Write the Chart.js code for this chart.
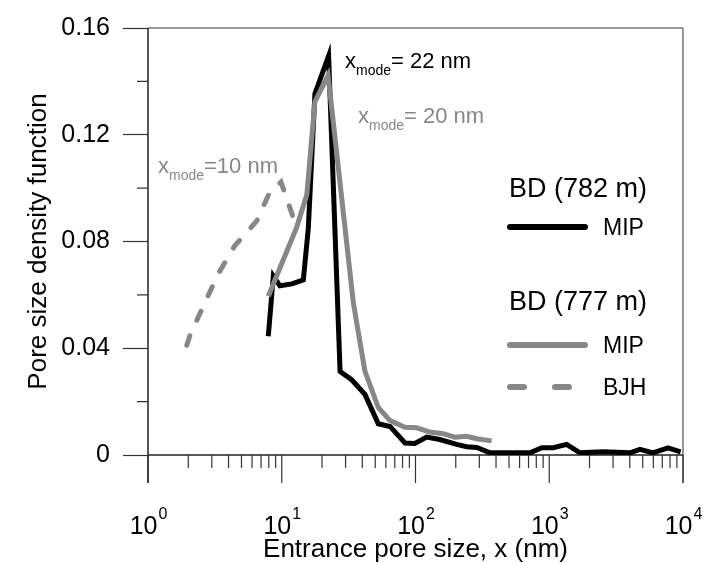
<!DOCTYPE html>
<html>
<head>
<meta charset="utf-8">
<script src="https://cdn.jsdelivr.net/npm/chart.js@4.4.0/dist/chart.umd.min.js"></script>
<style>
  html, body { margin: 0; padding: 0; background: #fff; }
</style>
</head>
<body>
<canvas id="psd" width="715" height="563"></canvas>
<script>
const FONT = '"Liberation Sans", Arial, sans-serif';
const GRAY = '#878787';

// BD (782 m), MIP
const mip782X = [7.93, 8.65, 9.7, 11.9, 14.5, 15.8, 17.7, 22.4, 27.3, 33.3, 41.9, 52.7, 64.5, 83.5, 99, 121, 152, 203, 241, 287, 361, 450, 580, 718, 879, 1072, 1349, 1698, 2523, 4018, 4770, 5968, 7730, 9600];
const mip782Y = [0.0445, 0.0671, 0.0634, 0.0641, 0.0656, 0.085, 0.1354, 0.1495, 0.0313, 0.0282, 0.0227, 0.0117, 0.0107, 0.0045, 0.0043, 0.0067, 0.0058, 0.0040, 0.0031, 0.0028, 0.0008, 0.0008, 0.0008, 0.0008, 0.0027, 0.0027, 0.0040, 0.0008, 0.0012, 0.0008, 0.0021, 0.0008, 0.0027, 0.0012];

// BD (777 m), MIP
const mip777X = [7.93, 10.2, 12.9, 15.4, 17.7, 22.2, 34.3, 41.9, 52.7, 64.5, 83.5, 102, 128, 161, 197, 241, 287, 371];
const mip777Y = [0.0595, 0.0728, 0.0852, 0.0975, 0.1324, 0.1422, 0.0570, 0.0313, 0.0178, 0.0129, 0.0104, 0.0102, 0.0086, 0.0080, 0.0067, 0.0070, 0.0061, 0.0053];

// BD (777 m), BJH
const bjhX = [1.95, 2.06, 2.59, 3.36, 4.47, 6.5, 8.17, 9.87, 13.2];
const bjhY = [0.0411, 0.0448, 0.0558, 0.068, 0.0785, 0.0877, 0.0987, 0.1023, 0.0839];

const xMajorTicks = [1, 10, 100, 1000, 10000];
const yMajorTicks = [0, 0.04, 0.08, 0.12, 0.16];
const yMinorTicks = [0.02, 0.06, 0.10, 0.14];

const toPoints = (xs, ys) => xs.map((x, i) => ({ x: x, y: ys[i] }));

function drawMode(ctx, left, base, rest, color) {
  ctx.fillStyle = color;
  ctx.textAlign = 'left';
  ctx.textBaseline = 'alphabetic';
  ctx.font = '22px ' + FONT;
  ctx.fillText('x', left, base);
  let w = ctx.measureText('x').width;
  ctx.font = '14px ' + FONT;
  ctx.fillText('mode', left + w, base + 7);
  w += ctx.measureText('mode').width;
  ctx.font = '22px ' + FONT;
  ctx.fillText(rest, left + w, base);
}

const decor = {
  id: 'decor',
  beforeDatasetsDraw(chart) {
    const { ctx, chartArea: a } = chart;
    ctx.save();
    ctx.lineWidth = 1.5;
    ctx.strokeStyle = '#777';
    ctx.beginPath();
    ctx.moveTo(a.left, a.top); ctx.lineTo(a.right, a.top);
    ctx.moveTo(a.right, a.top); ctx.lineTo(a.right, a.bottom + 28);
    ctx.stroke();
    ctx.strokeStyle = '#222';
    ctx.beginPath();
    ctx.moveTo(a.left, a.top); ctx.lineTo(a.left, a.bottom + 28);
    ctx.moveTo(a.left, a.bottom); ctx.lineTo(a.right, a.bottom);
    ctx.stroke();
    ctx.restore();
  },
  afterDraw(chart) {
    const { ctx, chartArea: a, scales: { x, y } } = chart;
    ctx.save();
    ctx.lineWidth = 1.2;
    ctx.strokeStyle = '#333';

    // x ticks, major and minor
    ctx.beginPath();
    xMajorTicks.forEach(v => {
      const px = x.getPixelForValue(v);
      ctx.moveTo(px, a.bottom); ctx.lineTo(px, a.bottom + 28);
      if (v < 10000) {
        for (let k = 2; k <= 9; k++) {
          const mx = x.getPixelForValue(k * v);
          ctx.moveTo(mx, a.bottom); ctx.lineTo(mx, a.bottom + 13);
        }
      }
    });
    // y minor ticks
    yMinorTicks.forEach(v => {
      const py = y.getPixelForValue(v);
      ctx.moveTo(a.left - 11, py); ctx.lineTo(a.left, py);
    });
    ctx.stroke();

    // x tick labels 10^n
    ctx.fillStyle = '#000';
    ctx.textAlign = 'left';
    ctx.textBaseline = 'alphabetic';
    xMajorTicks.forEach(v => {
      const px = x.getPixelForValue(v);
      const exp = String(Math.round(Math.log10(v)));
      ctx.font = '25px ' + FONT;
      const wb = ctx.measureText('10').width;
      ctx.font = '16px ' + FONT;
      const we = ctx.measureText(exp).width;
      const left = px - (wb + we) / 2;
      ctx.font = '25px ' + FONT;
      ctx.fillText('10', left, 534);
      ctx.font = '16px ' + FONT;
      ctx.fillText(exp, left + wb + 1, 519);
    });

    // mode notes
    drawMode(ctx, 345, 68, '= 22 nm', '#000');
    drawMode(ctx, 358, 123, '= 20 nm', GRAY);
    drawMode(ctx, 158, 173, '=10 nm', GRAY);

    // legend
    ctx.fillStyle = '#000';
    ctx.font = '27px ' + FONT;
    ctx.fillText('BD (782 m)', 509, 197);
    ctx.fillText('BD (777 m)', 509, 310);
    ctx.font = '23px ' + FONT;
    ctx.fillText('MIP', 603, 235);
    ctx.fillText('MIP', 603, 353);
    ctx.fillText('BJH', 603, 395);

    const sets = chart.data.datasets;
    ctx.lineCap = 'round';
    ctx.lineWidth = 6;
    ctx.strokeStyle = sets[0].borderColor;
    ctx.beginPath(); ctx.moveTo(510, 227); ctx.lineTo(585, 227); ctx.stroke();
    ctx.strokeStyle = sets[1].borderColor;
    ctx.beginPath(); ctx.moveTo(510, 345); ctx.lineTo(585, 345); ctx.stroke();
    ctx.strokeStyle = sets[2].borderColor;
    ctx.setLineDash([14, 31]);
    ctx.beginPath(); ctx.moveTo(510, 387); ctx.lineTo(585, 387); ctx.stroke();
    ctx.restore();
  }
};

new Chart(document.getElementById('psd'), {
  type: 'scatter',
  data: {
    datasets: [
      {
        label: 'BD (782 m) MIP',
        data: toPoints(mip782X, mip782Y),
        showLine: true,
        borderColor: '#000',
        borderWidth: 5,
        pointRadius: 0,
        order: 2
      },
      {
        label: 'BD (777 m) MIP',
        data: toPoints(mip777X, mip777Y),
        showLine: true,
        borderColor: GRAY,
        borderWidth: 5,
        pointRadius: 0,
        order: 1
      },
      {
        label: 'BD (777 m) BJH',
        data: toPoints(bjhX, bjhY),
        showLine: true,
        borderColor: GRAY,
        borderWidth: 5,
        borderDash: [10, 17],
        borderCapStyle: 'round',
        pointRadius: 0,
        order: 0
      }
    ]
  },
  options: {
    responsive: false,
    animation: false,
    devicePixelRatio: 1,
    layout: { padding: { top: 20, right: 32, left: 0, bottom: 0 } },
    plugins: {
      legend: { display: false },
      tooltip: { enabled: false }
    },
    scales: {
      x: {
        type: 'logarithmic',
        min: 1,
        max: 10000,
        afterFit: s => { s.height = 108; },
        ticks: { display: false },
        grid: { display: false },
        border: { display: false },
        title: {
          display: true,
          text: 'Entrance pore size, x (nm)',
          color: '#000',
          font: { family: FONT, size: 26, lineHeight: 1 },
          padding: { top: 0, bottom: 0 }
        }
      },
      y: {
        min: 0,
        max: 0.16,
        afterFit: s => { s.width = 148; },
        afterBuildTicks: s => { s.ticks = yMajorTicks.map(v => ({ value: v })); },
        ticks: {
          color: '#000',
          padding: 13,
          font: { family: FONT, size: 25 },
          callback: v => (v === 0 ? '0' : v.toFixed(2))
        },
        grid: {
          drawOnChartArea: false,
          drawTicks: true,
          tickLength: 25,
          tickColor: '#333',
          tickWidth: 1.2
        },
        border: { display: false },
        title: {
          display: true,
          text: 'Pore size density function',
          color: '#000',
          font: { family: FONT, size: 26 },
          padding: { top: 23, bottom: 0 }
        }
      }
    }
  },
  plugins: [decor]
});
</script>
</body>
</html>
